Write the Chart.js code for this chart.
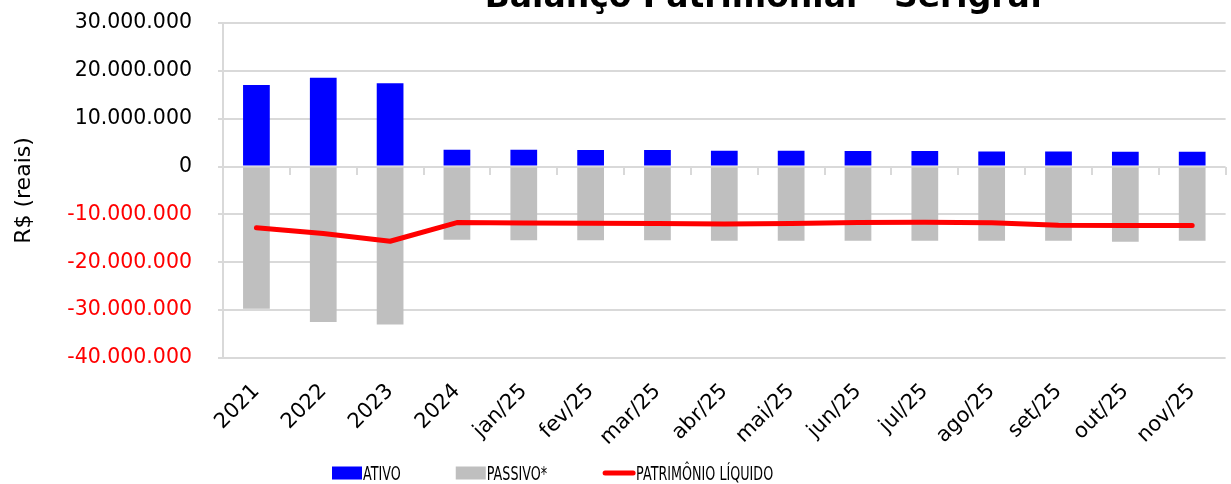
<!DOCTYPE html>
<html lang="pt-BR">
<head>
<meta charset="utf-8">
<title>Balanço Patrimonial - Serigraf</title>
<script src="https://cdn.jsdelivr.net/npm/chart.js@4.4.1/dist/chart.umd.min.js"></script>
<style>
  html, body { margin: 0; padding: 0; background: #fff; }
  #caixa { width: 1231px; height: 484px; }
</style>
</head>
<body>
<div id="caixa"><canvas id="grafico"></canvas></div>
<script>
// Dados (R$)
const categorias = ["2021", "2022", "2023", "2024", "jan/25", "fev/25", "mar/25", "abr/25",
  "mai/25", "jun/25", "jul/25", "ago/25", "set/25", "out/25", "nov/25"];
const ativo = [17060000, 18580000, 17410000, 3500000, 3500000, 3450000, 3450000, 3300000,
  3300000, 3250000, 3250000, 3150000, 3150000, 3100000, 3100000];
const passivo = [-29700000, -32500000, -33000000, -15300000, -15400000, -15400000, -15400000, -15500000,
  -15500000, -15500000, -15500000, -15500000, -15500000, -15700000, -15500000];
const patrimonioLiquido = [-12800000, -14000000, -15600000, -11700000, -11800000, -11850000, -11900000, -12000000,
  -11900000, -11700000, -11650000, -11750000, -12250000, -12300000, -12300000];
const ticksY = [-40000000, -30000000, -20000000, -10000000, 0, 10000000, 20000000, 30000000];

const fonte = "'DejaVu Sans', Verdana, sans-serif";
const corGrade = "#d9d9d9";

// 30000000 -> "30.000.000"
function formatarReais(v) {
  const s = String(Math.abs(v)).replace(/\B(?=(\d{3})+(?!\d))/g, ".");
  return v < 0 ? "-" + s : s;
}

// Título (fica cortado no topo, como no original)
const tituloPlugin = {
  id: "titulo",
  afterDraw(chart) {
    const { ctx, chartArea } = chart;
    ctx.save();
    ctx.font = "bold 33px " + fonte;
    ctx.fillStyle = "#000";
    ctx.textAlign = "center";
    ctx.textBaseline = "alphabetic";
    ctx.fillText("Balanço Patrimonial - Serigraf", chartArea.left + chartArea.width * 0.54, 7);
    ctx.restore();
  }
};

// Legenda embaixo, com texto estreito
const legendaPlugin = {
  id: "legendaBaixo",
  afterDraw(chart) {
    const ctx = chart.ctx;
    const escala = 0.67;
    const yBase = 480;
    const yMeio = 473;
    let x = 332;
    ctx.save();
    ctx.font = "19px " + fonte;
    ctx.textBaseline = "alphabetic";
    chart.data.datasets.forEach(ds => {
      if (ds.type === "line") {
        ctx.strokeStyle = ds.borderColor;
        ctx.lineWidth = 5;
        ctx.lineCap = "round";
        ctx.beginPath();
        ctx.moveTo(x + 3, yMeio);
        ctx.lineTo(x + 31, yMeio);
        ctx.stroke();
        x += 34;
      } else {
        ctx.fillStyle = ds.backgroundColor;
        ctx.fillRect(x, yMeio - 6.5, 30, 13);
        x += 31;
      }
      const w = ctx.measureText(ds.label).width * escala;
      ctx.save();
      ctx.translate(x, yBase);
      ctx.scale(escala, 1);
      ctx.fillStyle = "#000";
      ctx.fillText(ds.label, 0, 0);
      ctx.restore();
      x += w + 55;
    });
    ctx.restore();
  }
};

Chart.defaults.font.family = fonte;
Chart.defaults.color = "#000";

const ctx = document.getElementById("grafico").getContext("2d");
new Chart(ctx, {
  type: "bar",
  data: {
    labels: categorias,
    datasets: [
      {
        label: "ATIVO",
        data: ativo,
        backgroundColor: "#0000ff",
        grouped: false,
        barPercentage: 0.4,
        categoryPercentage: 1,
        order: 2
      },
      {
        label: "PASSIVO*",
        data: passivo,
        backgroundColor: "#bfbfbf",
        grouped: false,
        barPercentage: 0.4,
        categoryPercentage: 1,
        order: 1
      },
      {
        type: "line",
        label: "PATRIMÔNIO LÍQUIDO",
        data: patrimonioLiquido,
        borderColor: "#ff0000",
        backgroundColor: "#ff0000",
        borderWidth: 5,
        borderCapStyle: "round",
        borderJoinStyle: "round",
        pointRadius: 0,
        tension: 0,
        order: 0
      }
    ]
  },
  options: {
    responsive: true,
    maintainAspectRatio: false,
    animation: false,
    layout: { padding: { top: 23, left: 0, right: 0, bottom: 0 } },
    plugins: {
      legend: { display: false },
      title: { display: false },
      tooltip: { enabled: false }
    },
    scales: {
      x: {
        offset: true,
        grid: { display: false, drawTicks: false },
        border: { display: false },
        ticks: {
          autoSkip: false,
          minRotation: 45,
          maxRotation: 45,
          padding: 21,
          color: "#000",
          font: { size: 21 }
        },
        afterFit(s) { s.height = 126; }
      },
      x2: {
        type: "category",
        axis: "x",
        position: { y: 0 },
        offset: true,
        grid: {
          offset: true,
          drawOnChartArea: false,
          tickLength: 8,
          color: corGrade,
          lineWidth: 2
        },
        border: { display: false },
        ticks: { display: false },
        afterFit(s) { s.height = 0; }
      },
      y: {
        min: -40000000,
        max: 30000000,
        afterBuildTicks(s) { s.ticks = ticksY.map(v => ({ value: v })); },
        grid: { color: corGrade, lineWidth: 2, tickLength: 5 },
        border: { color: corGrade, width: 2 },
        ticks: {
          padding: 26,
          font: { size: 20.5 },
          color: c => (c.tick && c.tick.value < 0 ? "#ff0000" : "#000000"),
          callback: v => formatarReais(v)
        },
        title: {
          display: true,
          text: "R$ (reais)",
          color: "#000",
          font: { size: 22 },
          padding: { top: 11, bottom: 0 }
        },
        afterFit(s) {
          s.width = 223;
          s.paddingTop = 0;
          s.paddingBottom = 0;
        }
      }
    }
  },
  plugins: [tituloPlugin, legendaPlugin]
});
</script>
</body>
</html>
